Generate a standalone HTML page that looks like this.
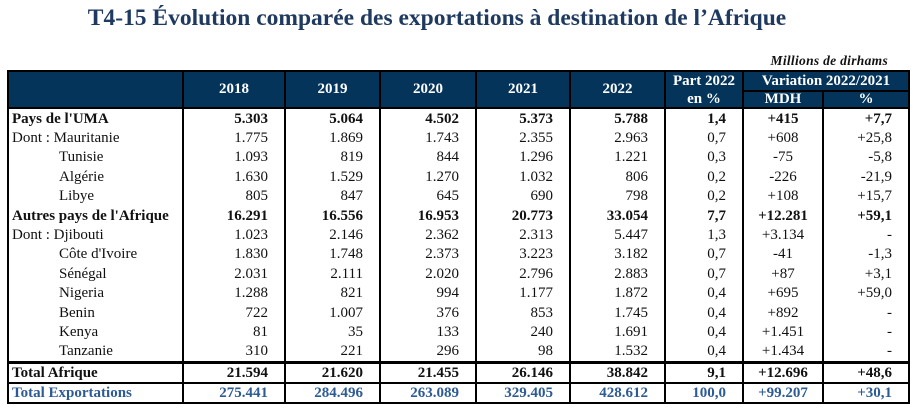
<!DOCTYPE html>
<html><head><meta charset="utf-8"><style>
body{margin:0;width:913px;height:409px;background:#fff;position:relative;font-family:"Liberation Serif",serif;overflow:hidden}
.title{position:absolute;top:5px;left:0;width:874px;text-align:center;font-weight:bold;font-size:23.5px;color:#1f3a60}
.unit{position:absolute;top:53px;right:25px;font-style:italic;font-weight:bold;font-size:13.5px;color:#111;letter-spacing:0.3px}
table{position:absolute;left:7px;top:70px;border-collapse:collapse;table-layout:fixed;font-size:15px;color:#111}
td{padding:0;height:19.4px;line-height:18px;border-left:2px solid #000;border-right:2px solid #000;text-align:right;white-space:nowrap;overflow:hidden}
td.n{padding-right:16px}
th{background:#04345a;color:#fff;font-weight:bold;font-size:15px;border:2px solid #000;padding:0;text-align:center;line-height:15px}
td.l{text-align:left;padding-left:3px}
td.i{text-align:left;padding-left:50px}
.b td{font-weight:bold}
.tot td{font-weight:bold;border-top:3px solid #000;height:16px}
.te td{font-weight:bold;color:#2d5b94;border-top:2px solid #000;border-bottom:2px solid #000;height:18px}
td.c{text-align:center;padding:0}
</style></head><body>
<div class="title">T4-15 Évolution comparée des exportations à destination de l’Afrique</div>
<div class="unit">Millions de dirhams</div>
<table>
<colgroup><col style="width:175px"><col style="width:102px"><col style="width:95px"><col style="width:96px"><col style="width:94px"><col style="width:95px"><col style="width:78px"><col style="width:80px"><col style="width:86px"></colgroup>
<tr style="height:20px"><th rowspan="2"></th><th rowspan="2">2018</th><th rowspan="2">2019</th><th rowspan="2">2020</th><th rowspan="2">2021</th><th rowspan="2">2022</th><th style="border-bottom:none">Part 2022</th><th colspan="2">Variation 2022/2021</th></tr>
<tr style="height:15px"><th style="border-top:none">en %</th><th>MDH</th><th>%</th></tr>
<tr class="b"><td class="l">Pays de l'UMA</td><td class="n">5.303</td><td class="n">5.064</td><td class="n">4.502</td><td class="n">5.373</td><td class="n">5.788</td><td class="n">1,4</td><td class="c">+415</td><td class="n">+7,7</td></tr>
<tr><td class="l">Dont : Mauritanie</td><td class="n">1.775</td><td class="n">1.869</td><td class="n">1.743</td><td class="n">2.355</td><td class="n">2.963</td><td class="n">0,7</td><td class="c">+608</td><td class="n">+25,8</td></tr>
<tr><td class="i">Tunisie</td><td class="n">1.093</td><td class="n">819</td><td class="n">844</td><td class="n">1.296</td><td class="n">1.221</td><td class="n">0,3</td><td class="c">-75</td><td class="n">-5,8</td></tr>
<tr><td class="i">Algérie</td><td class="n">1.630</td><td class="n">1.529</td><td class="n">1.270</td><td class="n">1.032</td><td class="n">806</td><td class="n">0,2</td><td class="c">-226</td><td class="n">-21,9</td></tr>
<tr><td class="i">Libye</td><td class="n">805</td><td class="n">847</td><td class="n">645</td><td class="n">690</td><td class="n">798</td><td class="n">0,2</td><td class="c">+108</td><td class="n">+15,7</td></tr>
<tr class="b"><td class="l">Autres pays de l'Afrique</td><td class="n">16.291</td><td class="n">16.556</td><td class="n">16.953</td><td class="n">20.773</td><td class="n">33.054</td><td class="n">7,7</td><td class="c">+12.281</td><td class="n">+59,1</td></tr>
<tr><td class="l">Dont : Djibouti</td><td class="n">1.023</td><td class="n">2.146</td><td class="n">2.362</td><td class="n">2.313</td><td class="n">5.447</td><td class="n">1,3</td><td class="c">+3.134</td><td class="n">-</td></tr>
<tr><td class="i">Côte d'Ivoire</td><td class="n">1.830</td><td class="n">1.748</td><td class="n">2.373</td><td class="n">3.223</td><td class="n">3.182</td><td class="n">0,7</td><td class="c">-41</td><td class="n">-1,3</td></tr>
<tr><td class="i">Sénégal</td><td class="n">2.031</td><td class="n">2.111</td><td class="n">2.020</td><td class="n">2.796</td><td class="n">2.883</td><td class="n">0,7</td><td class="c">+87</td><td class="n">+3,1</td></tr>
<tr><td class="i">Nigeria</td><td class="n">1.288</td><td class="n">821</td><td class="n">994</td><td class="n">1.177</td><td class="n">1.872</td><td class="n">0,4</td><td class="c">+695</td><td class="n">+59,0</td></tr>
<tr><td class="i">Benin</td><td class="n">722</td><td class="n">1.007</td><td class="n">376</td><td class="n">853</td><td class="n">1.745</td><td class="n">0,4</td><td class="c">+892</td><td class="n">-</td></tr>
<tr><td class="i">Kenya</td><td class="n">81</td><td class="n">35</td><td class="n">133</td><td class="n">240</td><td class="n">1.691</td><td class="n">0,4</td><td class="c">+1.451</td><td class="n">-</td></tr>
<tr><td class="i">Tanzanie</td><td class="n">310</td><td class="n">221</td><td class="n">296</td><td class="n">98</td><td class="n">1.532</td><td class="n">0,4</td><td class="c">+1.434</td><td class="n">-</td></tr>
<tr class="tot"><td class="l">Total Afrique</td><td class="n">21.594</td><td class="n">21.620</td><td class="n">21.455</td><td class="n">26.146</td><td class="n">38.842</td><td class="n">9,1</td><td class="c">+12.696</td><td class="n">+48,6</td></tr>
<tr class="te"><td class="l">Total Exportations</td><td class="n">275.441</td><td class="n">284.496</td><td class="n">263.089</td><td class="n">329.405</td><td class="n">428.612</td><td class="n">100,0</td><td class="c">+99.207</td><td class="n">+30,1</td></tr>
</table>
</body></html>
